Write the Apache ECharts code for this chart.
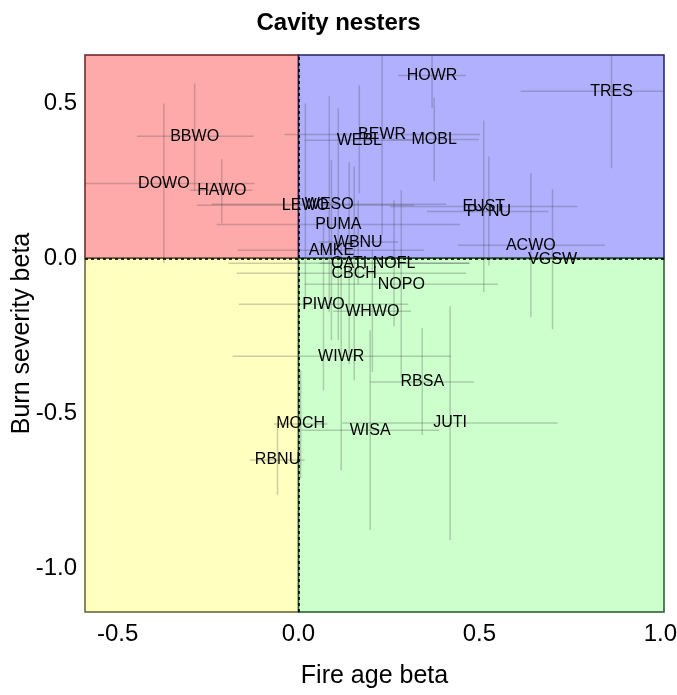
<!DOCTYPE html>
<html>
<head>
<meta charset="utf-8">
<script src="https://cdn.jsdelivr.net/npm/echarts@6/dist/echarts.min.js"></script>
<style>
  html, body { margin: 0; padding: 0; background: #fff; }
  #chart { width: 677px; height: 695px; }
</style>
</head>
<body>
<div id="chart"></div>
<script>
  // species codes and their estimates (fire age beta = x, burn severity beta = y)
  const species = ['HOWR', 'TRES', 'BBWO', 'BEWR', 'WEBL', 'MOBL', 'DOWO', 'HAWO', 'LEWO', 'WESO',
    'PUMA', 'WBNU', 'AMKE', 'EUST', 'PYNU', 'ACWO', 'VGSW', 'OATI', 'NOFL', 'CBCH',
    'NOPO', 'PIWO', 'WHWO', 'WIWR', 'RBSA', 'MOCH', 'WISA', 'JUTI', 'RBNU'];
  const fireAge = [0.369, 0.865, -0.287, 0.231, 0.168, 0.375, -0.372, -0.212, 0.019, 0.085,
    0.110, 0.165, 0.091, 0.512, 0.526, 0.642, 0.702, 0.140, 0.264, 0.154,
    0.284, 0.069, 0.204, 0.118, 0.342, 0.006, 0.198, 0.419, -0.058];
  const fireLo = [0.275, 0.614, -0.446, -0.039, 0.017, 0.256, -0.623, -0.300, -0.281, -0.240,
    -0.226, 0.055, -0.168, 0.253, 0.355, 0.441, 0.510, -0.193, 0.058, -0.171,
    0.017, -0.165, 0.096, -0.182, 0.198, -0.069, 0.008, 0.121, -0.135];
  const fireHi = [0.463, 1.116, -0.124, 0.501, 0.320, 0.499, -0.121, -0.127, 0.320, 0.408,
    0.446, 0.275, 0.347, 0.771, 0.691, 0.846, 0.895, 0.474, 0.471, 0.463,
    0.551, 0.303, 0.311, 0.421, 0.485, 0.080, 0.388, 0.716, 0.017];
  const burnSev = [0.589, 0.538, 0.393, 0.399, 0.380, 0.383, 0.241, 0.219, 0.171, 0.174,
    0.109, 0.052, 0.026, 0.167, 0.151, 0.042, -0.003, -0.016, -0.016, -0.048,
    -0.084, -0.148, -0.171, -0.316, -0.399, -0.534, -0.554, -0.531, -0.650];
  const burnLo = [0.483, 0.290, 0.219, 0.074, 0.209, 0.248, -0.016, 0.113, -0.158, -0.174,
    -0.264, -0.084, -0.264, -0.109, -0.023, -0.190, -0.229, -0.341, -0.219, -0.393,
    -0.383, -0.425, -0.367, -0.683, -0.570, -0.708, -0.876, -0.908, -0.763];
  const burnHi = [0.695, 0.786, 0.563, 0.724, 0.557, 0.518, 0.499, 0.319, 0.499, 0.522,
    0.483, 0.187, 0.316, 0.444, 0.328, 0.274, 0.222, 0.309, 0.187, 0.296,
    0.219, 0.129, 0.026, 0.052, -0.225, -0.361, -0.232, -0.155, -0.538];

  const xTicks = [-0.5, 0, 0.5, 1.0];
  const yTicks = [-1.0, -0.5, 0, 0.5];
  const xMin = -0.59, xMax = 1.01;
  const yMin = -1.14, yMax = 0.655;

  const rows = species.map((s, i) => [fireAge[i], burnSev[i], fireLo[i], fireHi[i], burnLo[i], burnHi[i], s]);

  const quad = (x0, y0, x1, y1, fill, edge) => [
    { xAxis: x0, yAxis: y0, itemStyle: { color: fill, borderColor: edge, borderWidth: 1.5 } },
    { xAxis: x1, yAxis: y1 }
  ];

  const chart = echarts.init(document.getElementById('chart'));
  chart.setOption({
    animation: false,
    title: {
      text: 'Cavity nesters',
      left: 'center',
      top: 6,
      textStyle: { fontFamily: 'Liberation Sans', fontWeight: 'bold', fontSize: 24, color: '#000' }
    },
    grid: { left: 85, right: 13, top: 55, bottom: 83, outerBoundsMode: 'none' },
    xAxis: {
      type: 'value',
      min: xMin,
      max: xMax,
      name: 'Fire age beta',
      nameLocation: 'middle',
      nameGap: 52,
      nameMoveOverlap: false,
      nameTextStyle: { fontFamily: 'Liberation Sans', fontSize: 25, color: '#000' },
      axisLine: { show: false },
      splitLine: { show: false },
      axisTick: { show: true, customValues: xTicks, length: 5, lineStyle: { color: '#000' } },
      axisLabel: {
        customValues: xTicks,
        formatter: v => v.toFixed(1),
        fontFamily: 'Liberation Sans', fontSize: 24, color: '#000', margin: 10
      }
    },
    yAxis: {
      type: 'value',
      min: yMin,
      max: yMax,
      name: 'Burn severity beta',
      nameLocation: 'middle',
      nameGap: 50,
      nameMoveOverlap: false,
      nameTextStyle: { fontFamily: 'Liberation Sans', fontSize: 25, color: '#000' },
      axisLine: { show: false },
      splitLine: { show: false },
      axisTick: { show: true, customValues: yTicks, length: 5, lineStyle: { color: '#000' } },
      axisLabel: {
        customValues: yTicks,
        formatter: v => v.toFixed(1),
        fontFamily: 'Liberation Sans', fontSize: 24, color: '#000', margin: 8
      }
    },
    series: [
      {
        // quadrant backgrounds
        type: 'scatter',
        data: [],
        silent: true,
        z: 1,
        markArea: {
          silent: true,
          data: [
            quad(xMin, 0, 0, yMax, '#ffaaaa', '#6a2020'),
            quad(0, 0, xMax, yMax, '#b0b0ff', '#202060'),
            quad(xMin, yMin, 0, 0, '#ffffc0', '#606030'),
            quad(0, yMin, xMax, 0, '#ccffcc', '#205a20')
          ]
        }
      },
      {
        // error bars
        type: 'custom',
        data: rows,
        clip: true,
        silent: true,
        z: 2,
        renderItem: (params, api) => {
          const c = api.coord([api.value(0), api.value(1)]);
          const xl = api.coord([api.value(2), api.value(1)]);
          const xh = api.coord([api.value(3), api.value(1)]);
          const yl = api.coord([api.value(0), api.value(4)]);
          const yh = api.coord([api.value(0), api.value(5)]);
          const st = { stroke: 'rgba(70,70,70,0.27)', lineWidth: 1.5 };
          return {
            type: 'group',
            children: [
              { type: 'line', shape: { x1: xl[0], y1: c[1], x2: xh[0], y2: c[1] }, style: st },
              { type: 'line', shape: { x1: c[0], y1: yl[1], x2: c[0], y2: yh[1] }, style: st }
            ]
          };
        },
        markLine: {
          silent: true,
          symbol: 'none',
          label: { show: false },
          lineStyle: { color: '#000', type: [3, 3], width: 1.6 },
          data: [{ xAxis: 0 }, { yAxis: 0 }]
        }
      },
      {
        // species labels
        type: 'custom',
        data: rows,
        silent: true,
        z: 3,
        renderItem: (params, api) => {
          const c = api.coord([api.value(0), api.value(1)]);
          return {
            type: 'text',
            style: {
              text: species[params.dataIndex],
              x: c[0],
              y: c[1],
              align: 'center',
              verticalAlign: 'middle',
              fill: '#000',
              fontSize: 16,
              fontFamily: 'Liberation Sans'
            }
          };
        }
      }
    ]
  });
</script>
</body>
</html>
